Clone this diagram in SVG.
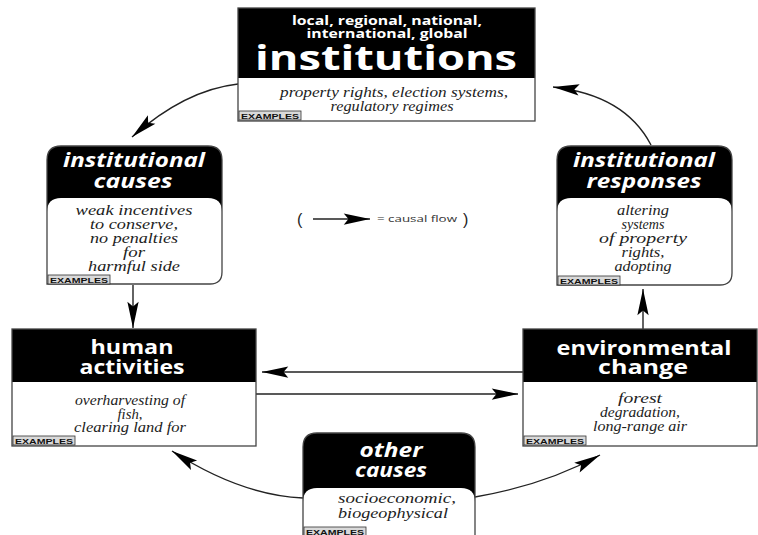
<svg xmlns="http://www.w3.org/2000/svg" width="758" height="535" viewBox="0 0 758 535">
<style>
.hd{font-family:"Open Sans","Liberation Sans",sans-serif;font-weight:700;fill:#fff;text-anchor:middle}
.hdi{font-family:"Open Sans","Liberation Sans",sans-serif;font-weight:700;font-style:italic;fill:#fff;text-anchor:middle;font-size:19px}
.ex{font-family:"Liberation Serif","DejaVu Serif",serif;font-style:italic;fill:#222;text-anchor:middle;font-size:15.5px}
.frame{fill:none;stroke:#444;stroke-width:1.3}
.tagr{fill:#d9d9d9;stroke:#333;stroke-width:0.8}
.tagt{font-family:"Liberation Sans","DejaVu Sans",sans-serif;font-weight:700;font-size:7px;fill:#111}
.conn{fill:none;stroke:#222;stroke-width:1.4}
</style>
<defs>
<marker id="ah" viewBox="-30 -7 32 14" refX="0" refY="0" markerWidth="30" markerHeight="14" markerUnits="userSpaceOnUse" orient="auto">
<path d="M0,0 L-28,-6 L-23,0 L-28,6 Z" fill="#000"/>
</marker>
</defs>
<rect width="758" height="535" fill="#fff"/>

<g id="connectors">
<path class="conn" d="M238,84 Q185,90 132,137" marker-end="url(#ah)"/>
<path class="conn" d="M651,145 Q625,95 553,87" marker-end="url(#ah)"/>
<path class="conn" d="M133,285 L133,328" marker-end="url(#ah)"/>
<path class="conn" d="M643,329 L643,289" marker-end="url(#ah)"/>
<path class="conn" d="M523,372 L262,372" marker-end="url(#ah)"/>
<path class="conn" d="M256,394 L518,394" marker-end="url(#ah)"/>
<path class="conn" d="M303,498 Q240,495 172,451" marker-end="url(#ah)"/>
<path class="conn" d="M475,497 Q545,485 600,455" marker-end="url(#ah)"/>
</g>

<g id="legend">
<text x="297" y="225" font-family="Liberation Sans, sans-serif" font-size="16" fill="#222">(</text>
<path class="conn" d="M313,219 L370,219" marker-end="url(#ah)"/>
<text x="377" y="222" font-family="Open Sans, Liberation Sans, sans-serif" font-size="9.5" fill="#333" textLength="80" lengthAdjust="spacingAndGlyphs">= causal flow</text>
<text x="463" y="225" font-family="Liberation Sans, sans-serif" font-size="16" fill="#222">)</text>
</g>

<g id="institutions">
<rect x="238" y="8" width="297" height="70" fill="#000"/>
<rect x="238" y="8" width="297" height="113" class="frame"/>
<text class="hd" x="387" y="25" font-size="13" textLength="190" lengthAdjust="spacingAndGlyphs">local, regional, national,</text>
<text class="hd" x="387" y="38" font-size="13" textLength="161" lengthAdjust="spacingAndGlyphs">international, global</text>
<text class="hd" x="386" y="70" font-size="34" textLength="262" lengthAdjust="spacingAndGlyphs">institutions</text>
<text class="ex" x="394" y="97" textLength="228" lengthAdjust="spacingAndGlyphs">property rights, election systems,</text>
<text class="ex" x="392" y="111" textLength="123" lengthAdjust="spacingAndGlyphs">regulatory regimes</text>
<rect class="tagr" x="239" y="111" width="62" height="9"/>
<text class="tagt" x="241" y="118.5" textLength="58" lengthAdjust="spacingAndGlyphs">EXAMPLES</text>
</g>

<g id="institutional-causes">
<path d="M47,284 L47,160 Q47,146 61,146 L208,146 Q222,146 222,160 L222,272 Q222,284 210,284 Z" fill="#000"/>
<path d="M47,284 L47,212 Q47,198 61,198 L208,198 Q222,198 222,212 L222,272 Q222,284 210,284 Z" fill="#fff"/>
<path class="frame" d="M47,284 L47,160 Q47,146 61,146 L208,146 Q222,146 222,160 L222,272 Q222,284 210,284 Z"/>
<text class="hdi" x="134" y="167" textLength="142" lengthAdjust="spacingAndGlyphs">institutional</text>
<text class="hdi" x="133" y="188" textLength="79" lengthAdjust="spacingAndGlyphs">causes</text>
<text class="ex" x="134" y="215" textLength="117" lengthAdjust="spacingAndGlyphs">weak incentives</text>
<text class="ex" x="134" y="229" textLength="88" lengthAdjust="spacingAndGlyphs">to conserve,</text>
<text class="ex" x="134" y="243" textLength="88" lengthAdjust="spacingAndGlyphs">no penalties</text>
<text class="ex" x="134" y="257" textLength="22" lengthAdjust="spacingAndGlyphs">for</text>
<text class="ex" x="134" y="271" textLength="92" lengthAdjust="spacingAndGlyphs">harmful side</text>
<rect class="tagr" x="48" y="275" width="62" height="9"/>
<text class="tagt" x="50" y="282.5" textLength="58" lengthAdjust="spacingAndGlyphs">EXAMPLES</text>
</g>

<g id="institutional-responses">
<path d="M557,285 L557,160 Q557,146 571,146 L718,146 Q732,146 732,160 L732,273 Q732,285 720,285 Z" fill="#000"/>
<path d="M557,285 L557,212 Q557,198 571,198 L718,198 Q732,198 732,212 L732,273 Q732,285 720,285 Z" fill="#fff"/>
<path class="frame" d="M557,285 L557,160 Q557,146 571,146 L718,146 Q732,146 732,160 L732,273 Q732,285 720,285 Z"/>
<text class="hdi" x="644" y="167" textLength="142" lengthAdjust="spacingAndGlyphs">institutional</text>
<text class="hdi" x="644" y="188" textLength="115" lengthAdjust="spacingAndGlyphs">responses</text>
<text class="ex" x="643" y="215" textLength="52" lengthAdjust="spacingAndGlyphs">altering</text>
<text class="ex" x="643" y="229" textLength="43" lengthAdjust="spacingAndGlyphs">systems</text>
<text class="ex" x="643" y="243" textLength="88" lengthAdjust="spacingAndGlyphs">of property</text>
<text class="ex" x="643" y="257" textLength="43" lengthAdjust="spacingAndGlyphs">rights,</text>
<text class="ex" x="643" y="271" textLength="57" lengthAdjust="spacingAndGlyphs">adopting</text>
<rect class="tagr" x="558" y="276" width="62" height="9"/>
<text class="tagt" x="560" y="283.5" textLength="58" lengthAdjust="spacingAndGlyphs">EXAMPLES</text>
</g>

<g id="human-activities">
<rect x="12" y="329" width="244" height="53" fill="#000"/>
<rect x="12" y="329" width="244" height="117" class="frame"/>
<text class="hd" x="132" y="354" font-size="19" textLength="83" lengthAdjust="spacingAndGlyphs">human</text>
<text class="hd" x="132" y="374" font-size="19" textLength="105" lengthAdjust="spacingAndGlyphs">activities</text>
<text class="ex" x="130" y="405" textLength="110" lengthAdjust="spacingAndGlyphs">overharvesting of</text>
<text class="ex" x="130" y="419" textLength="25" lengthAdjust="spacingAndGlyphs">fish,</text>
<text class="ex" x="130" y="432" textLength="112" lengthAdjust="spacingAndGlyphs">clearing land for</text>
<rect class="tagr" x="13" y="436" width="62" height="9"/>
<text class="tagt" x="15" y="443.5" textLength="58" lengthAdjust="spacingAndGlyphs">EXAMPLES</text>
</g>

<g id="environmental-change">
<rect x="523" y="329" width="234" height="53" fill="#000"/>
<rect x="523" y="329" width="234" height="117" class="frame"/>
<text class="hd" x="644" y="355" font-size="19" textLength="175" lengthAdjust="spacingAndGlyphs">environmental</text>
<text class="hd" x="643" y="374" font-size="19" textLength="90" lengthAdjust="spacingAndGlyphs">change</text>
<text class="ex" x="640" y="403" textLength="44" lengthAdjust="spacingAndGlyphs">forest</text>
<text class="ex" x="640" y="417" textLength="80" lengthAdjust="spacingAndGlyphs">degradation,</text>
<text class="ex" x="640" y="431" textLength="94" lengthAdjust="spacingAndGlyphs">long-range air</text>
<rect class="tagr" x="524" y="436" width="62" height="9"/>
<text class="tagt" x="526" y="443.5" textLength="58" lengthAdjust="spacingAndGlyphs">EXAMPLES</text>
</g>

<g id="other-causes">
<path d="M303,545 L303,447 Q303,433 317,433 L461,433 Q475,433 475,447 L475,545 Z" fill="#000"/>
<path d="M303,545 L303,502 Q303,488 317,488 L461,488 Q475,488 475,502 L475,545 Z" fill="#fff"/>
<path class="frame" d="M303,545 L303,447 Q303,433 317,433 L461,433 Q475,433 475,447 L475,545 Z"/>
<text class="hdi" x="391" y="457" textLength="63" lengthAdjust="spacingAndGlyphs">other</text>
<text class="hdi" x="391" y="477" textLength="72" lengthAdjust="spacingAndGlyphs">causes</text>
<text class="ex" x="397" y="503" textLength="118" lengthAdjust="spacingAndGlyphs">socioeconomic,</text>
<text class="ex" x="393" y="518" textLength="110" lengthAdjust="spacingAndGlyphs">biogeophysical</text>
<rect class="tagr" x="304" y="527" width="62" height="9"/>
<text class="tagt" x="306" y="534.5" textLength="58" lengthAdjust="spacingAndGlyphs">EXAMPLES</text>
</g>
</svg>
